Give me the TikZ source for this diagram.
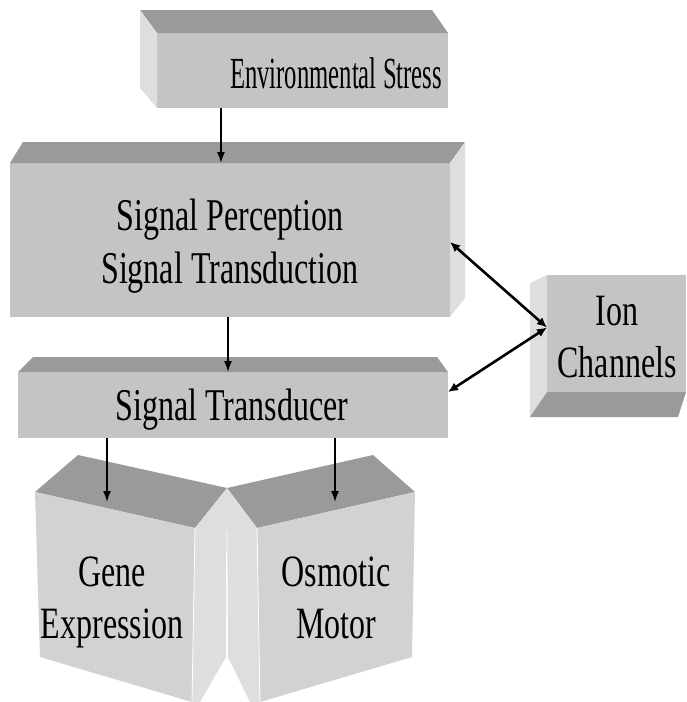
\documentclass[tikz,border=0pt]{standalone}
\usepackage{fontspec}
\setmainfont{Liberation Serif}
\usetikzlibrary{arrows.meta}
\definecolor{topface}{RGB}{154,154,154}
\definecolor{frontface}{RGB}{196,196,196}
\definecolor{sideface}{RGB}{222,222,222}
\definecolor{frontlight}{RGB}{210,210,210}
\newcommand\ytext[2]{\scalebox{1}[#1]{#2}}
\begin{document}
\begin{tikzpicture}[x=1pt,y=-1pt,
  front/.style={fill=frontface, draw=none, inner sep=0pt, outer sep=0pt, rectangle},
  lbl/.style={anchor=base, inner sep=0pt, text=black},
  big/.style={font=\fontsize{32}{37}\selectfont},
  thinarr/.style={line width=1.6pt, -{Latex[length=11pt,width=8pt]}},
  thickarr/.style={line width=2.6pt, {Latex[length=10pt,width=9pt]}-{Latex[length=10pt,width=9pt]}},
  seam/.style={white, line width=0.8pt}]
\useasboundingbox (0,0) rectangle (686,702);
\fill[white] (0,0) rectangle (686,702);

% Environmental Stress
\node[front, minimum width=291, minimum height=75] (env) at (302.5,70.5) {};
\fill[topface] (env.north west) -- (env.north east) -- (432,10) -- (140,10) -- cycle;
\fill[sideface] (env.north west) -- (140,10) -- (140,88) -- (env.south west) -- cycle;
\node[lbl] (envt) at (336,88) {\fontsize{24.7}{30}\selectfont\ytext{1.8}{Environmental Stress}};

% Signal Perception / Transduction
\node[front, minimum width=440, minimum height=154] (sp) at (230,240) {};
\fill[topface] (sp.north west) -- (sp.north east) -- (465,142) -- (23,142) -- cycle;
\fill[sideface] (sp.north east) -- (465,142) -- (465,298) -- (sp.south east) -- cycle;
\node[lbl, big] (spt) at (230,283) {\ytext{1.42}{\begin{tabular}[b]{@{}c@{}}Signal Perception\\Signal Transduction\end{tabular}}};

% Signal Transducer
\node[front, minimum width=430, minimum height=66] (st) at (233,405) {};
\fill[topface] (st.north west) -- (st.north east) -- (437,357) -- (33,357) -- cycle;
\node[lbl, big] (stt) at (232,420) {\ytext{1.42}{Signal Transducer}};

% Ion Channels
\node[front, minimum width=139, minimum height=117] (ion) at (616.5,333.5) {};
\fill[sideface] (ion.north west) -- (530,283) -- (530,417) -- (ion.south west) -- cycle;
\fill[topface] (ion.south west) -- (ion.south east) -- (678,417) -- (530,417) -- cycle;
\node[lbl, big] (iont) at (617,377) {\ytext{1.4}{\begin{tabular}[b]{@{}c@{}}Ion\\Channels\end{tabular}}};

% Gene Expression
\fill[topface] (35,492) -- (78,455) -- (227,488) -- (195,528) -- cycle;
\fill[frontlight] (35,492) -- (195,528) -- (192,702) -- (40,657) -- cycle;
\fill[sideface] (195,528) -- (227,488) -- (226,657) -- (200,702) -- (192,702) -- cycle;
\node[lbl, big] (gene) at (112,638) {\ytext{1.4}{\begin{tabular}[b]{@{}c@{}}Gene\\Expression\end{tabular}}};

% Osmotic Motor
\fill[topface] (227,488) -- (373,455) -- (415,492) -- (257,528) -- cycle;
\fill[frontlight] (257,528) -- (415,492) -- (412,657) -- (260,702) -- cycle;
\fill[sideface] (227,488) -- (257,528) -- (260,702) -- (250,702) -- (228,657) -- cycle;
\node[lbl, big] (osm) at (336,638) {\ytext{1.4}{\begin{tabular}[b]{@{}c@{}}Osmotic\\Motor\end{tabular}}};

% seams
\draw[seam] (195,528) -- (192,702);
\draw[seam] (257,528) -- (260,702);
\draw[seam] (226.5,553) -- (227,657);

% arrows
\coordinate (a1) at (221,0);
\coordinate (a2) at (228,0);
\coordinate (gtop) at (107,502);
\coordinate (otop) at (335,502);
\draw[thinarr] (env.south -| a1) -- (sp.north -| a1);
\draw[thinarr] (sp.south -| a2) -- (st.north -| a2);
\draw[thinarr] (st.south -| gtop) -- (gtop);
\draw[thinarr] (st.south -| otop) -- (otop);
\draw[thickarr] ([yshift=6pt]ion.west) -- ([yshift=-2pt]sp.east);
\draw[thickarr] ([yshift=6pt]ion.west) -- ([yshift=13pt]st.east);
\end{tikzpicture}
\end{document}
